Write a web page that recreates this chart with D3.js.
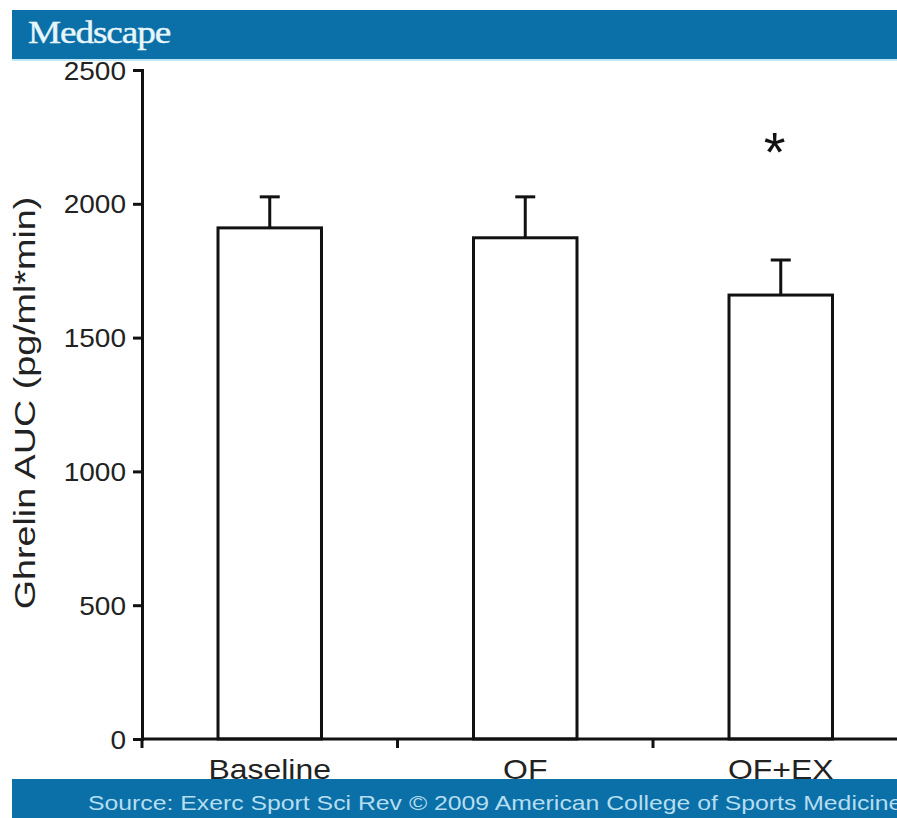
<!DOCTYPE html>
<html>
<head>
<meta charset="utf-8">
<script src="https://cdn.jsdelivr.net/npm/d3@7/dist/d3.min.js"></script>
<style>
  html, body { margin: 0; padding: 0; background: #fff; }
  svg { display: block; }
</style>
</head>
<body>
<script>
// Ghrelin area-under-curve by condition
const categories = ["Baseline", "OF", "OF+EX"];
const meanValues = [1910, 1873, 1659];
const errorTops  = [2026, 2026, 1790];
const significant = [false, false, true];
const yTicks = [0, 500, 1000, 1500, 2000, 2500];

const W = 897, H = 818;
const svg = d3.select("body").append("svg").attr("width", W).attr("height", H);

const y = d3.scaleLinear().domain([0, 2500]).range([739, 70]);
const x = d3.scaleBand().domain(categories).range([142, 908.5]).padding(0);
const barW = x.bandwidth() * 0.405;
const cx = d => x(d) + x.bandwidth() / 2;

const font = "Arial, 'Liberation Sans', Helvetica, sans-serif";

// widen glyphs horizontally by factor k (the typeface here is set wide)
function widen(sel, k) {
  sel.each(function () {
    const n = this.getComputedTextLength();
    d3.select(this).attr("textLength", n * k).attr("lengthAdjust", "spacingAndGlyphs");
  });
}

// header band
svg.append("rect").attr("x", 12).attr("y", 10).attr("width", W - 12).attr("height", 49).attr("fill", "#0b6fa8");
svg.append("rect").attr("x", 12).attr("y", 59).attr("width", W - 12).attr("height", 2).attr("fill", "#bfe6f3");
svg.append("text").attr("x", 28).attr("y", 43)
  .attr("font-family", "'Liberation Serif', 'Times New Roman', serif")
  .attr("font-size", 31).attr("letter-spacing", -0.9)
  .attr("stroke", "#e6f6fb").attr("stroke-width", 0.4)
  .attr("fill", "#e6f6fb").text("Medscape")
  .call(widen, 1.2);

// bars
const g = svg.append("g");
g.selectAll("rect.bar").data(categories).join("rect")
  .attr("class", "bar")
  .attr("x", d => cx(d) - barW / 2)
  .attr("y", (d, i) => y(meanValues[i]))
  .attr("width", barW)
  .attr("height", (d, i) => y(0) - y(meanValues[i]))
  .attr("fill", "#fff").attr("stroke", "#111").attr("stroke-width", 3);

// error bars (upper only)
g.selectAll("line.err").data(categories).join("line")
  .attr("x1", d => cx(d)).attr("x2", d => cx(d))
  .attr("y1", (d, i) => y(meanValues[i])).attr("y2", (d, i) => y(errorTops[i]))
  .attr("stroke", "#111").attr("stroke-width", 3);
g.selectAll("line.cap").data(categories).join("line")
  .attr("x1", d => cx(d) - 10).attr("x2", d => cx(d) + 10)
  .attr("y1", (d, i) => y(errorTops[i])).attr("y2", (d, i) => y(errorTops[i]))
  .attr("stroke", "#111").attr("stroke-width", 3);

// significance marker
g.selectAll("text.sig").data(categories.filter((d, i) => significant[i])).join("text")
  .attr("x", d => cx(d) - 6).attr("y", 171)
  .attr("text-anchor", "middle")
  .attr("font-family", font).attr("font-size", 56).attr("fill", "#111")
  .text("*");

// y axis
const yAxis = svg.append("g").attr("transform", "translate(142,0)")
  .call(d3.axisLeft(y).tickValues(yTicks).tickSize(9).tickPadding(7).tickFormat(d3.format("d")));
yAxis.select(".domain").attr("stroke", "#111").attr("stroke-width", 3);
yAxis.selectAll(".tick line").attr("stroke", "#111").attr("stroke-width", 3);
yAxis.selectAll(".tick text").attr("font-family", font).attr("font-size", 25).attr("fill", "#222").attr("dy", "0.36em")
  .call(widen, 1.12);

// x axis: ticks at band boundaries
const boundaries = categories.map(d => x(d));
const xAxisG = svg.append("g");
xAxisG.append("line").attr("x1", 142).attr("x2", W).attr("y1", y(0)).attr("y2", y(0))
  .attr("stroke", "#111").attr("stroke-width", 3);
xAxisG.selectAll("line.xt").data(boundaries).join("line")
  .attr("x1", d => d).attr("x2", d => d).attr("y1", y(0)).attr("y2", y(0) + 9)
  .attr("stroke", "#111").attr("stroke-width", 3);
xAxisG.selectAll("text").data(categories).join("text")
  .attr("x", d => cx(d)).attr("y", 779)
  .attr("text-anchor", "middle")
  .attr("font-family", font).attr("font-size", 28).attr("fill", "#222")
  .text(d => d)
  .call(widen, 1.14);

// y axis title
svg.append("text")
  .attr("transform", "translate(35,403) rotate(-90)")
  .attr("text-anchor", "middle")
  .attr("font-family", font).attr("font-size", 29).attr("fill", "#222")
  .text("Ghrelin AUC (pg/ml*min)")
  .call(widen, 1.3);

// footer band
svg.append("rect").attr("x", 12).attr("y", 779).attr("width", W - 12).attr("height", 39).attr("fill", "#0b6fa8");
svg.append("text").attr("x", 88).attr("y", 810)
  .attr("font-family", font).attr("font-size", 21).attr("fill", "#b5def0")
  .text("Source: Exerc Sport Sci Rev © 2009 American College of Sports Medicine")
  .call(widen, 1.18);
</script>
</body>
</html>
